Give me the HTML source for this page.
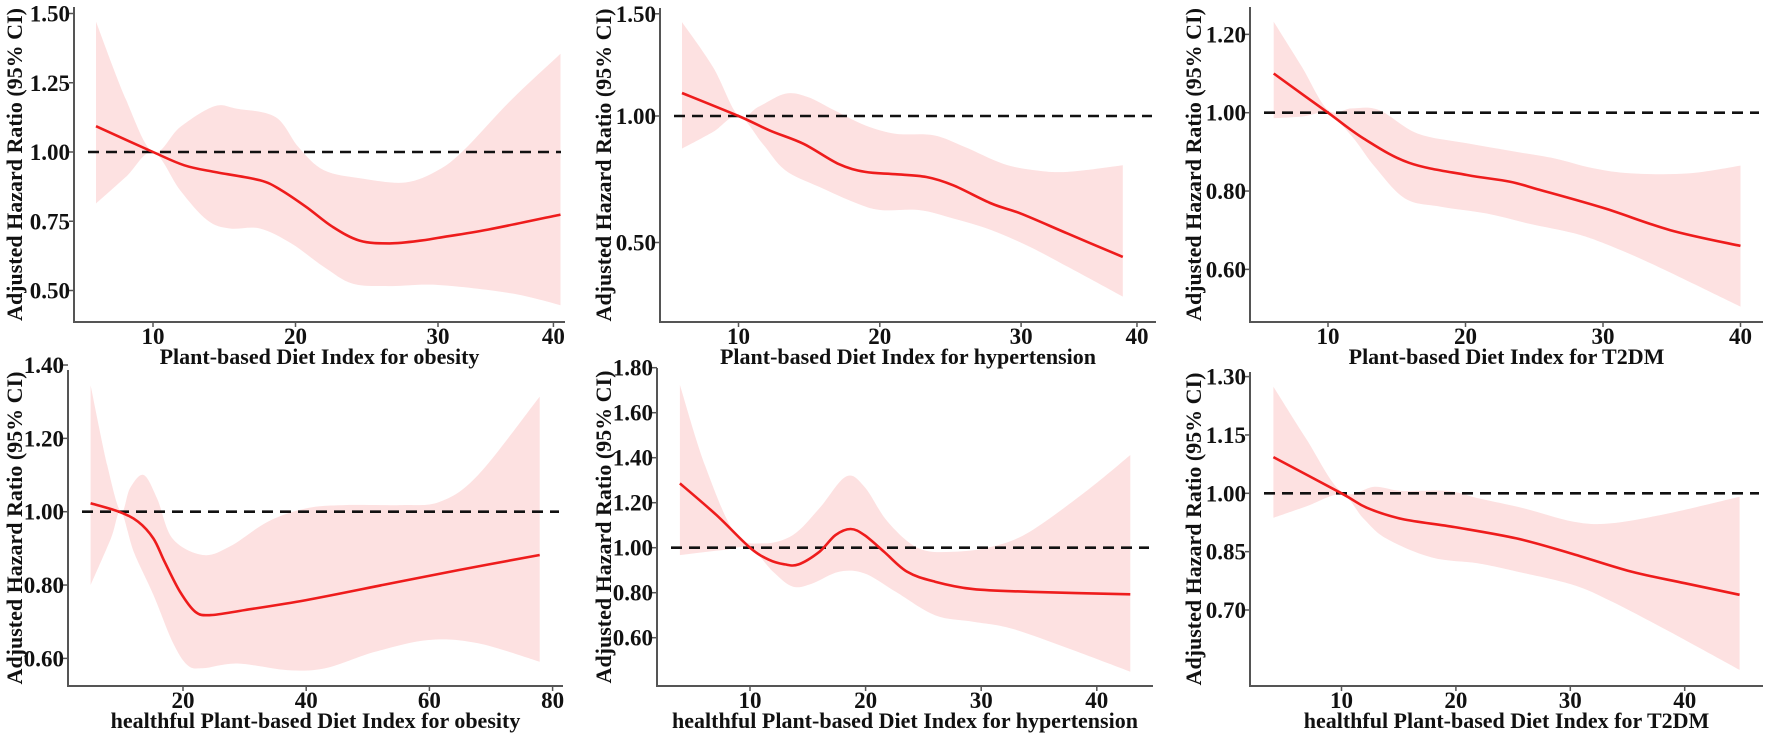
<!DOCTYPE html>
<html><head><meta charset="utf-8">
<style>
html,body{margin:0;padding:0;background:#fff;}
svg{display:block;font-family:"Liberation Serif",serif;font-weight:bold;}
</style></head>
<body>
<svg id="fig" width="1772" height="735" viewBox="0 0 1772 735" xmlns="http://www.w3.org/2000/svg"></svg>
<script>
// ---------- Panel 1: PDI obesity ----------
const p1FitX=[6.0,10,12.2,14.3,17.5,19,20.8,22.6,24.5,26.6,28.8,30,33.5,38.6];
const p1Fit=[1.093,1.0,0.952,0.928,0.898,0.862,0.80,0.73,0.68,0.67,0.68,0.69,0.72,0.774];
const p1UpX=[6.0,8.1,10,11.9,14.3,15.9,18.6,20.2,22,24.7,27.7,30,31.8,35.1,38.6];
const p1Up=[1.47,1.19,1.0,1.09,1.165,1.156,1.126,1.018,0.934,0.904,0.89,0.934,1.006,1.186,1.355];
const p1LoX=[6.0,8.1,10,11.9,13.8,15.4,17.5,19.7,22,24,26.6,30,35.1,38.6];
const p1Lo=[0.814,0.91,1.0,0.862,0.754,0.724,0.724,0.67,0.585,0.525,0.516,0.52,0.49,0.447];
const p1XTicks=[10,20,30,38.1];
const p1XLabels=["10","20","30","40"];
const p1YTicks=[1.5,1.25,1.0,0.75,0.5];
const p1YLabels=["1.50","1.25","1.00","0.75","0.50"];

// ---------- Panel 2: PDI hypertension ----------
const p2FitX=[6.0,10,12.2,14.6,17.1,18.97,21.1,23.3,25.2,27.9,30,33.3,37.2];
const p2Fit=[1.091,1.0,0.943,0.89,0.81,0.779,0.77,0.759,0.726,0.654,0.614,0.535,0.443];
const p2UpX=[6.0,8.2,10,11.4,13.3,14.9,16.8,18.97,21.1,23.8,26,28.7,30.9,33.3,37.2];
const p2Up=[1.371,1.193,1.0,1.036,1.088,1.075,1.022,0.963,0.93,0.924,0.878,0.812,0.786,0.779,0.805];
const p2LoX=[6.0,8.2,10,11.7,13.3,15.7,18.4,20.1,22.8,25.2,27.9,30.6,33.3,37.2];
const p2Lo=[0.871,0.937,1.0,0.891,0.786,0.72,0.654,0.628,0.628,0.595,0.549,0.483,0.404,0.286];
const p2XTicks=[10,20,30,38.2];
const p2XLabels=["10","20","30","40"];
const p2YTicks=[1.404,1.0,0.5];
const p2YLabels=["1.50","1.00","0.50"];

// ---------- Panel 3: PDI T2DM ----------
const p3FitX=[6.05,10,12.6,15.9,20.1,23.2,25.4,30.1,34.9,40];
const p3Fit=[1.10,1.0,0.934,0.872,0.841,0.824,0.803,0.756,0.70,0.66];
const p3UpX=[6.05,8.1,10,11.75,13.7,16.5,20.1,23.7,26.5,29.3,32.1,36.2,40];
const p3Up=[1.232,1.117,1.007,1.011,1.007,0.947,0.922,0.90,0.883,0.858,0.845,0.845,0.865];
const p3LoX=[6.05,8.1,10,11.75,13.4,15.6,18.2,21.5,24.6,27.9,30.1,33.5,40];
const p3Lo=[0.986,0.99,0.997,0.939,0.862,0.781,0.76,0.743,0.717,0.692,0.666,0.615,0.505];
const p3XTicks=[10,20,30,40];
const p3XLabels=["10","20","30","40"];
const p3YTicks=[1.2,1.0,0.8,0.6];
const p3YLabels=["1.20","1.00","0.80","0.60"];

// ---------- Panel 4: hPDI obesity ----------
const p4FitX=[5.0,9.6,12.7,15.2,17.0,19.5,22,24.5,30.1,40,52.4,64.8,77.9];
const p4Fit=[1.023,1.0,0.973,0.927,0.864,0.782,0.727,0.718,0.732,0.759,0.80,0.841,0.882];
const p4UpX=[5,7.7,9.9,11.4,13.6,15.8,18.3,23.2,27.6,33.8,40,46.2,55.5,61.7,67.9,77.9];
const p4Up=[1.345,1.127,1.0,1.064,1.10,1.036,0.927,0.882,0.905,0.973,1.009,1.018,1.018,1.027,1.10,1.314];
const p4LoX=[5,8.3,9.9,12.0,15.2,18.3,20.7,23.2,28.8,36.9,43.1,51.2,59.9,67.9,77.9];
const p4Lo=[0.80,0.927,1.0,0.891,0.773,0.645,0.582,0.573,0.586,0.568,0.573,0.618,0.65,0.641,0.591];
const p4XTicks=[20,40,60,80];
const p4XLabels=["20","40","60","80"];
const p4YTicks=[1.4,1.2,1.0,0.8,0.6];
const p4YLabels=["1.40","1.20","1.00","0.80","0.60"];

// ---------- Panel 5: hPDI hypertension ----------
const p5FitX=[3.94,7.1,10,11.7,13.0,14.2,16.0,17.4,18.7,19.9,21.6,23.6,26.0,29.3,34.2,42.9];
const p5Fit=[1.286,1.145,1.0,0.945,0.926,0.926,0.982,1.056,1.083,1.056,0.982,0.893,0.849,0.816,0.804,0.793];
const p5UpX=[3.94,6.1,8.7,11.1,13.7,16.0,18.3,19.9,21.9,24.6,27.6,30.9,34.2,39.2,42.9];
const p5Up=[1.723,1.367,1.064,1.019,1.056,1.175,1.316,1.271,1.116,0.997,0.982,1.004,1.071,1.256,1.412];
const p5LoX=[3.94,7.7,10,12.0,13.7,15.4,17.7,19.9,22.6,26.0,29.3,32.6,37.5,42.9];
const p5Lo=[0.967,0.99,0.997,0.893,0.827,0.841,0.893,0.886,0.804,0.70,0.671,0.641,0.553,0.449];
const p5XTicks=[10,20,30,40];
const p5XLabels=["10","20","30","40"];
const p5YTicks=[1.8,1.6,1.4,1.2,1.0,0.8,0.6];
const p5YLabels=["1.80","1.60","1.40","1.20","1.00","0.80","0.60"];

// ---------- Panel 6: hPDI T2DM ----------
const p6FitX=[4.05,10,12.2,15.3,19.9,25.3,30,35.3,40,44.8];
const p6Fit=[1.093,1.0,0.963,0.934,0.913,0.884,0.846,0.799,0.769,0.739];
const p6UpX=[4.05,6.9,10,12.9,15.3,19.3,22,26,30.3,33.6,38.7,44.8];
const p6Up=[1.274,1.141,1.004,1.017,1.006,1.006,0.987,0.961,0.927,0.923,0.949,0.991];
const p6LoX=[4.05,6.9,10,11.9,13.9,17.9,21.9,25.3,30.3,33.6,38.7,44.8];
const p6Lo=[0.937,0.966,0.996,0.936,0.884,0.835,0.82,0.799,0.764,0.722,0.644,0.546];
const p6XTicks=[10,20,30,40];
const p6XLabels=["10","20","30","40"];
const p6YTicks=[1.3,1.15,1.0,0.85,0.7];
const p6YLabels=["1.30","1.15","1.00","0.85","0.70"];

const panels=[
 {id:"pdi-obesity",title:"Plant-based Diet Index for obesity",fitX:p1FitX,fit:p1Fit,upX:p1UpX,up:p1Up,loX:p1LoX,lo:p1Lo,xt:p1XTicks,xl:p1XLabels,yt:p1YTicks,yl:p1YLabels,
  L:74,R:565,T:7,B:322,xRef:[10,153],xPer:14.25,yRef:[1,152],yPer:277,yTitleX:14},
 {id:"pdi-hypertension",title:"Plant-based Diet Index for hypertension",fitX:p2FitX,fit:p2Fit,upX:p2UpX,up:p2Up,loX:p2LoX,lo:p2Lo,xt:p2XTicks,xl:p2XLabels,yt:p2YTicks,yl:p2YLabels,
  L:660,R:1156,T:8,B:322,xRef:[10,738.5],xPer:14.13,yRef:[1,116],yPer:253,yTitleX:603},
 {id:"pdi-t2dm",title:"Plant-based Diet Index for T2DM",fitX:p3FitX,fit:p3Fit,upX:p3UpX,up:p3Up,loX:p3LoX,lo:p3Lo,xt:p3XTicks,xl:p3XLabels,yt:p3YTicks,yl:p3YLabels,
  L:1250,R:1763,T:7,B:322,xRef:[10,1328],xPer:13.75,yRef:[1,112.7],yPer:391.7,yTitleX:1193},
 {id:"hpdi-obesity",title:"healthful Plant-based Diet Index for obesity",fitX:p4FitX,fit:p4Fit,upX:p4UpX,up:p4Up,loX:p4LoX,lo:p4Lo,xt:p4XTicks,xl:p4XLabels,yt:p4YTicks,yl:p4YLabels,
  L:68,R:563,T:370,B:686,xRef:[20,183],xPer:6.16,yRef:[1,511.7],yPer:366.7,yTitleX:14},
 {id:"hpdi-hypertension",title:"healthful Plant-based Diet Index for hypertension",fitX:p5FitX,fit:p5Fit,upX:p5UpX,up:p5Up,loX:p5LoX,lo:p5Lo,xt:p5XTicks,xl:p5XLabels,yt:p5YTicks,yl:p5YLabels,
  L:657,R:1153,T:368,B:686,xRef:[10,750],xPer:11.56,yRef:[1,547.7],yPer:225,yTitleX:603},
 {id:"hpdi-t2dm",title:"healthful Plant-based Diet Index for T2DM",fitX:p6FitX,fit:p6Fit,upX:p6UpX,up:p6Up,loX:p6LoX,lo:p6Lo,xt:p6XTicks,xl:p6XLabels,yt:p6YTicks,yl:p6YLabels,
  L:1250,R:1763,T:372,B:686,xRef:[10,1341.5],xPer:11.44,yRef:[1,493.3],yPer:389,yTitleX:1193}
];

const NS="http://www.w3.org/2000/svg";
const svg=document.getElementById("fig");
function mk(tag,attrs,parent){const e=document.createElementNS(NS,tag);for(const k in attrs)e.setAttribute(k,attrs[k]);(parent||svg).appendChild(e);return e;}
function smooth(pts){
  let d="M"+pts[0][0].toFixed(1)+","+pts[0][1].toFixed(1);
  for(let i=0;i<pts.length-1;i++){
    const p0=pts[i-1]||pts[i],p1=pts[i],p2=pts[i+1],p3=pts[i+2]||p2;
    const c1=[p1[0]+(p2[0]-p0[0])/6,p1[1]+(p2[1]-p0[1])/6];
    const c2=[p2[0]-(p3[0]-p1[0])/6,p2[1]-(p3[1]-p1[1])/6];
    d+="C"+c1[0].toFixed(1)+","+c1[1].toFixed(1)+" "+c2[0].toFixed(1)+","+c2[1].toFixed(1)+" "+p2[0].toFixed(1)+","+p2[1].toFixed(1);
  }
  return d;
}

panels.forEach(p=>{
  const xs=v=>p.xRef[1]+(v-p.xRef[0])*p.xPer;
  const ys=v=>p.yRef[1]-(v-p.yRef[0])*p.yPer;
  const g=mk("g",{});
  
  

  const upPts=p.upX.map((x,i)=>[xs(x),ys(p.up[i])]);
  const loPts=p.loX.map((x,i)=>[xs(x),ys(p.lo[i])]).reverse();
  let d=smooth(upPts);
  d+=smooth(loPts).replace(/^M/,"L")+"Z";
  const band=mk("path",{d:d,fill:"#fde1e1",stroke:"none"},g);
  
  

  const ref=mk("line",{x1:p.L+14,x2:p.R-4,y1:ys(1),y2:ys(1),stroke:"#111","stroke-width":2.6,"stroke-dasharray":"11 7"},g);
  
  

  const fitPts=p.fitX.map((x,i)=>[xs(x),ys(p.fit[i])]);
  const line=mk("path",{d:smooth(fitPts),fill:"none",stroke:"#ee1c1c","stroke-width":2.6,"stroke-linejoin":"round"},g);
  
  

  const ax=mk("path",{d:`M${p.L},${p.T}V${p.B}H${p.R}`,fill:"none",stroke:"#555","stroke-width":2},g);
  
  

  p.xt.forEach((v,i)=>{
    const x=xs(v);
    const t=mk("line",{x1:x,x2:x,y1:p.B,y2:p.B+5,stroke:"#555","stroke-width":1.5},g);
    
    
    const lb=mk("text",{x:x,y:p.B+22,"text-anchor":"middle","font-size":23,fill:"#111"},g);
    lb.textContent=p.xl[i];
    
    
  });
  p.yt.forEach((v,i)=>{
    const y=ys(v);
    const t=mk("line",{x1:p.L-5,x2:p.L,y1:y,y2:y,stroke:"#555","stroke-width":1.5},g);
    
    
    const lb=mk("text",{x:p.L-4,y:y+8,"text-anchor":"end","font-size":23,fill:"#111"},g);
    lb.textContent=p.yl[i];
    
    
  });
  const xt=mk("text",{x:(p.L+p.R)/2,y:p.B+42,"text-anchor":"middle","font-size":22,fill:"#111"},g);
  xt.textContent=p.title;
  
  
  const cy=(p.T+p.B)/2;
  const yt=mk("text",{x:0,y:0,"text-anchor":"middle","font-size":22,fill:"#111",transform:`translate(${p.yTitleX+8},${cy}) rotate(-90)`},g);
  yt.textContent="Adjusted Hazard Ratio (95% CI)";
  
  
});
</script>
</body></html>
